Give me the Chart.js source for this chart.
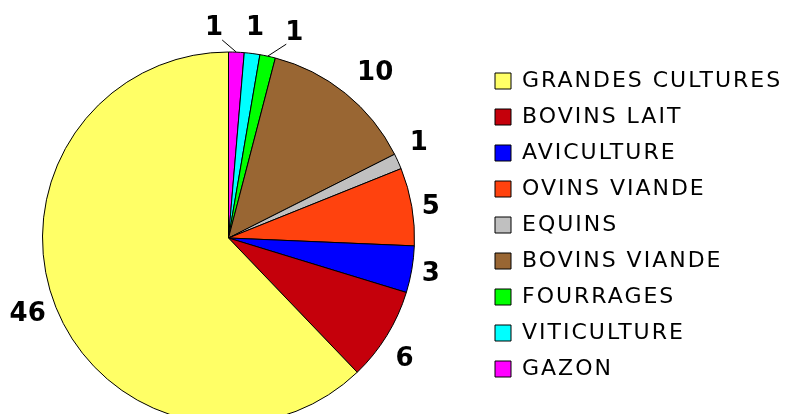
<!DOCTYPE html>
<html>
<head>
<meta charset="utf-8">
<script src="https://cdn.jsdelivr.net/npm/chart.js@4.4.0/dist/chart.umd.min.js"></script>
<style>
  html, body { margin: 0; padding: 0; background: #fff; overflow: hidden; }
  #holder { position: absolute; left: -24px; top: 0; width: 812px; height: 440px; }
</style>
</head>
<body>
<div id="holder"><canvas id="pie"></canvas></div>
<script>
const categories = ['GRANDES CULTURES', 'BOVINS LAIT', 'AVICULTURE', 'OVINS VIANDE', 'EQUINS', 'BOVINS VIANDE', 'FOURRAGES', 'VITICULTURE', 'GAZON'];
const counts = [46, 6, 3, 5, 1, 10, 1, 1, 1];
const sliceColors = ['#FFFF66', '#C5000B', '#0000FF', '#FF420E', '#C0C0C0', '#996633', '#00FF00', '#00FFFF', '#FF00FF'];

// value labels: turn off the slice middle (degrees), gap outside the rim (px), leader line or not
const labelTurn = [1.7, 2.2, -0.4, 0.2, -2.9, 2.2, 5.4, -0.2, -6.3];
const labelGap = [28, 26, 19, 19, 28, 37, 32, 28, 26.5];
const labelLeader = [false, false, false, false, false, false, true, false, true];

// slices run counter-clockwise from 12 o'clock, chart.js goes clockwise -> feed it reversed
const rev = arr => arr.slice().reverse();

const LEGEND_SPACING = '2px';

const sliceLabels = {
    id: 'sliceLabels',
    beforeLayout(chart){
        // legend measures its text here, keep the spacing in the measure
        chart.ctx.letterSpacing = LEGEND_SPACING;
    },
    beforeDraw(chart){
        chart.ctx.letterSpacing = LEGEND_SPACING;
    },
    afterDatasetsDraw(chart){
        const ctx = chart.ctx;
        const arcs = chart.getDatasetMeta(0).data;
        const values = chart.data.datasets[0].data;
        const n = arcs.length;
        ctx.save();
        ctx.letterSpacing = '0px';
        ctx.font = 'bold 26px "DejaVu Sans"';
        ctx.fillStyle = '#000';
        ctx.strokeStyle = '#000';
        ctx.lineWidth = 1;
        ctx.textAlign = 'center';
        ctx.textBaseline = 'alphabetic';
        arcs.forEach((arc, i) => {
            const k = n - 1 - i;
            const p = arc.getProps(['x', 'y', 'startAngle', 'endAngle', 'outerRadius'], true);
            const mid = (p.startAngle + p.endAngle) / 2;
            const a = mid + labelTurn[k] * Math.PI / 180;
            const d = p.outerRadius + labelGap[k];
            const lx = p.x + Math.cos(a) * d;
            const ly = p.y + Math.sin(a) * d;
            if(labelLeader[k]){
                const px = p.x + Math.cos(mid) * p.outerRadius;
                const py = p.y + Math.sin(mid) * p.outerRadius;
                ctx.beginPath();
                ctx.moveTo(px, py);
                ctx.lineTo(lx + (px > lx ? 8 : -8), ly + 14);
                ctx.stroke();
            }
            ctx.fillText(String(values[i]), lx, ly + 9.5);
        });
        ctx.restore();
    },
    afterDraw(chart){
        chart.ctx.letterSpacing = '0px';
    }
};

new Chart(document.getElementById('pie'), {
    type: 'pie',
    data: {
        labels: rev(categories),
        datasets: [{
            data: rev(counts),
            backgroundColor: rev(sliceColors),
            borderColor: '#000',
            borderWidth: 1,
            clip: false
        }]
    },
    options: {
        responsive: true,
        maintainAspectRatio: false,
        animation: false,
        radius: 186,
        layout: {
            padding: {left: 0, top: 56, right: 0, bottom: 20}
        },
        plugins: {
            tooltip: {enabled: false},
            legend: {
                position: 'right',
                align: 'start',
                maxWidth: 307,
                labels: {
                    boxWidth: 16,
                    boxHeight: 16,
                    padding: 14,
                    color: '#000',
                    font: {family: '"DejaVu Sans"', size: 22},
                    sort: (a, b) => b.index - a.index
                }
            }
        }
    },
    plugins: [sliceLabels]
});
</script>
</body>
</html>
